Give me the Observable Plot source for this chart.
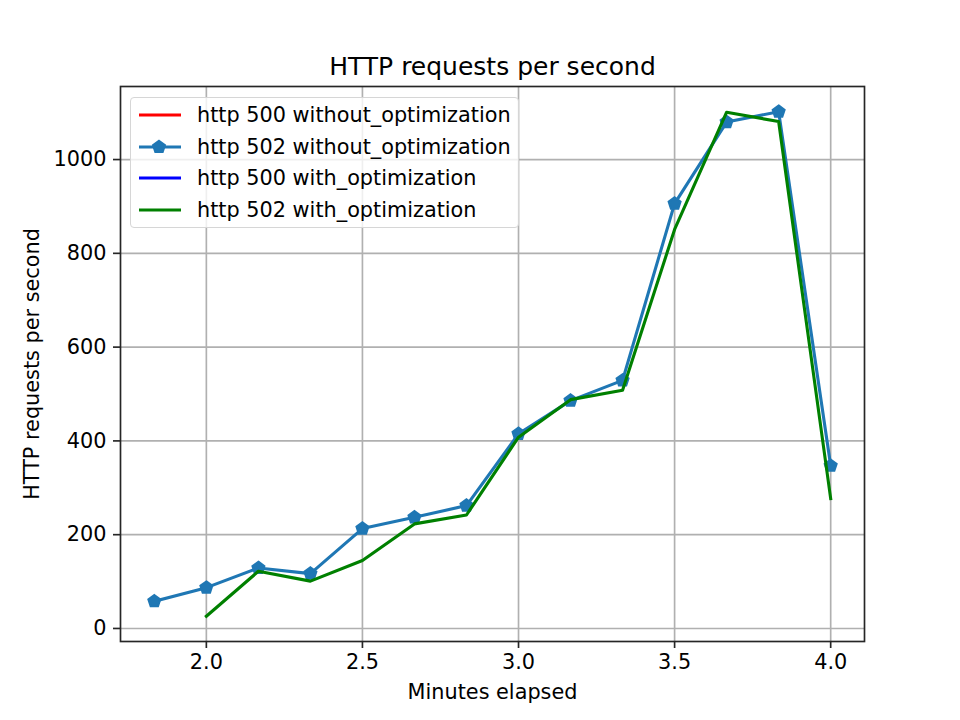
<!DOCTYPE html>
<html>
<head>
<meta charset="utf-8">
<script src="https://cdn.jsdelivr.net/npm/d3@7"></script>
<script src="https://cdn.jsdelivr.net/npm/@observablehq/plot@0.6"></script>
<style>
  html, body { margin: 0; padding: 0; background: white; }
  #wrap { position: relative; width: 960px; height: 720px; font-family: "DejaVu Sans", sans-serif; }
  #legend {
    position: absolute; left: 130px; top: 97px; width: 387px; height: 129px;
    border: 1.6px solid #d6d6d6; border-radius: 4px; background: rgba(255,255,255,0.8);
    box-sizing: content-box;
  }
  .row { position: absolute; left: 0; height: 32px; display: flex; align-items: center; font-size: 20.8px; color: black; white-space: nowrap; }
  .row svg { margin-left: 6px; margin-right: 14px; }
</style>
</head>
<body>
<div id="wrap"></div>
<script>
// ---- data ----
const minutes = [1.8333, 2.0, 2.1667, 2.3333, 2.5, 2.6667, 2.8333, 3.0, 3.1667, 3.3333, 3.5, 3.6667, 3.8333, 4.0];
const http500Without = [];   // not visible in the chart
const http502Without = [58, 87, 129, 117, 213, 237, 262, 415, 486, 529, 906, 1080, 1102, 347];
const http500With = [];      // not visible in the chart
const http502With = [null, 26, 122, 101, 145, 223, 242, 408, 488, 508, 851, 1101, 1081, 277];
const xTicks = [2.0, 2.5, 3.0, 3.5, 4.0];
const yTicks = [0, 200, 400, 600, 800, 1000];
const seriesNames = ["http 500 without_optimization", "http 502 without_optimization", "http 500 with_optimization", "http 502 with_optimization"];
const seriesColors = ["#ff0000", "#1f77b4", "#0000ff", "#008000"];

const toRows = (vals) => vals.map((v, i) => ({minute: minutes[i], value: v})).filter(d => d.value != null);
const rows500w = toRows(http500Without);
const rows502w = toRows(http502Without);
const rows500o = toRows(http500With);
const rows502o = toRows(http502With);

// matplotlib-like 5% margins
const allX = [...rows502w, ...rows502o].map(d => d.minute);
const allY = [...rows502w, ...rows502o].map(d => d.value);
const [x0, x1] = d3.extent(allX), [y0, y1] = d3.extent(allY);
const xDomain = [x0 - 0.05 * (x1 - x0), x1 + 0.05 * (x1 - x0)];
const yDomain = [y0 - 0.05 * (y1 - y0), y1 + 0.05 * (y1 - y0)];

const pentagon = {
  draw(context, size) {
    const R = Math.sqrt(size / Math.PI);
    for (let k = 0; k < 5; k++) {
      const a = -Math.PI / 2 + k * 2 * Math.PI / 5;
      const px = R * Math.cos(a), py = R * Math.sin(a);
      if (k === 0) context.moveTo(px, py); else context.lineTo(px, py);
    }
    context.closePath();
  }
};

const lineOpts = {x: "minute", y: "value", strokeWidth: 3.1, strokeLinejoin: "round", strokeLinecap: "square"};

const chart = Plot.plot({
  width: 960, height: 720,
  marginLeft: 120, marginRight: 96, marginTop: 86, marginBottom: 79,
  style: {fontFamily: "DejaVu Sans", fontSize: "20.8px", color: "black", background: "white"},
  x: {domain: xDomain, label: null},
  y: {domain: yDomain, label: null},
  marks: [
    Plot.gridX(xTicks, {stroke: "#b0b0b0", strokeOpacity: 1, strokeWidth: 1.67}),
    Plot.gridY(yTicks, {stroke: "#b0b0b0", strokeOpacity: 1, strokeWidth: 1.67}),
    Plot.line(rows500w, {...lineOpts, stroke: seriesColors[0]}),
    Plot.line(rows502w, {...lineOpts, stroke: seriesColors[1]}),
    Plot.dot(rows502w, {x: "minute", y: "value", symbol: pentagon, r: 6.3, fill: seriesColors[1], stroke: seriesColors[1], strokeWidth: 2}),
    Plot.line(rows500o, {...lineOpts, stroke: seriesColors[2]}),
    Plot.line(rows502o, {...lineOpts, stroke: seriesColors[3]}),
    Plot.frame({stroke: "#262626", strokeWidth: 1.67}),
    Plot.axisX(xTicks, {tickSize: 7, tickPadding: 6, tickFormat: d3.format(".1f"), strokeWidth: 1.67, stroke: "#262626", fontSize: 20.8, label: null}),
    Plot.axisY(yTicks, {tickSize: 7, tickPadding: 7, tickFormat: d3.format("d"), strokeWidth: 1.67, stroke: "#262626", fontSize: 20.8, label: null}),
    Plot.text(["HTTP requests per second"], {frameAnchor: "top", dy: -20, lineAnchor: "middle", fontSize: 25, fill: "black"}),
    Plot.text(["Minutes elapsed"], {frameAnchor: "bottom", dy: 51, lineAnchor: "middle", fontSize: 20.8, fill: "black"}),
    Plot.text(["HTTP requests per second"], {frameAnchor: "left", dx: -88, rotate: -90, lineAnchor: "middle", textAnchor: "middle", fontSize: 20.8, fill: "black"})
  ]
});

const wrap = document.getElementById("wrap");
wrap.appendChild(chart);

// legend overlay
const legend = document.createElement("div");
legend.id = "legend";
seriesNames.forEach((name, i) => {
  const row = document.createElement("div");
  row.className = "row";
  row.style.top = (1 + i * 31.6) + "px";
  const marker = i === 1 ? `<path d="${(() => { const R = 6.3; let p = ""; for (let k = 0; k < 5; k++) { const a = -Math.PI/2 + k*2*Math.PI/5; p += (k ? "L" : "M") + (22 + R*Math.cos(a)).toFixed(2) + "," + (10 + R*Math.sin(a)).toFixed(2); } return p + "Z"; })()}" fill="${seriesColors[i]}" stroke="${seriesColors[i]}" stroke-width="2"/>` : "";
  row.innerHTML = `<svg width="46" height="20"><line x1="2" x2="44" y1="10" y2="10" stroke="${seriesColors[i]}" stroke-width="3.1"/>${marker}</svg><span>${name}</span>`;
  legend.appendChild(row);
});
wrap.appendChild(legend);
</script>
</body>
</html>
